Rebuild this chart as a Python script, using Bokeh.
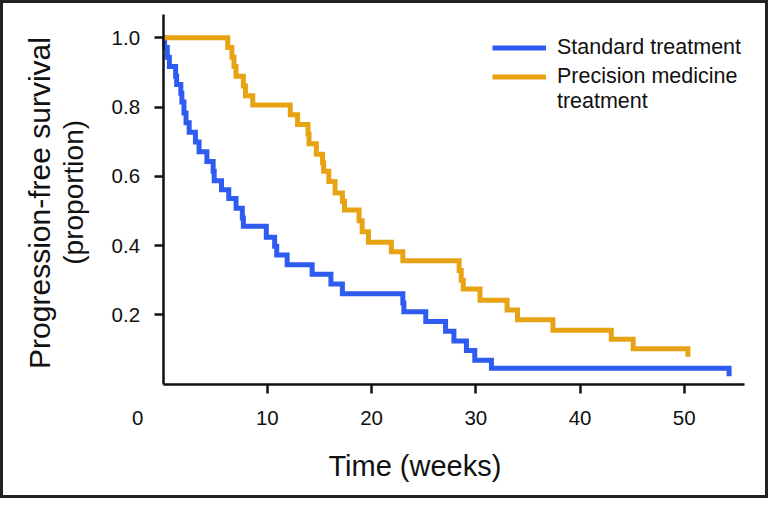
import math
from bokeh.plotting import figure
from bokeh.models import Range1d, FixedTicker, Label, Legend, LegendItem
from bokeh.embed import file_html
from bokeh.resources import INLINE

# ---- data ----
std_weeks = [0, 0.15, 0.4, 0.6, 1.2, 1.3, 1.7, 1.8, 2.0, 2.2, 2.5, 3.1, 3.45, 4.2, 4.8, 4.9,
             5.6, 6.3, 7.0, 7.6, 7.7, 9.9, 10.7, 10.9, 11.9, 14.3, 16.1, 17.2, 23.0, 23.1,
             25.2, 27.1, 27.9, 29.1, 29.9, 31.5, 54.3]
std_surv = [1.0, 0.972, 0.944, 0.917, 0.889, 0.865, 0.840, 0.815, 0.783, 0.755, 0.727, 0.699,
            0.671, 0.643, 0.615, 0.587, 0.561, 0.536, 0.508, 0.480, 0.456, 0.424, 0.398, 0.373,
            0.345, 0.317, 0.289, 0.261, 0.234, 0.209, 0.181, 0.153, 0.125, 0.097, 0.069, 0.046,
            0.023]

prec_weeks = [0, 6.2, 6.6, 6.8, 7.0, 7.7, 7.9, 8.6, 12.2, 12.9, 13.9, 14.0, 14.7, 15.3, 15.4,
              15.9, 16.5, 17.2, 17.4, 18.8, 19.1, 19.7, 21.9, 23.0, 28.4, 28.6, 28.8, 30.4,
              33.0, 34.0, 37.4, 43.0, 45.1, 50.35]
prec_surv = [1.0, 0.972, 0.944, 0.917, 0.889, 0.861, 0.833, 0.806, 0.778, 0.750, 0.722, 0.694,
             0.664, 0.639, 0.615, 0.585, 0.552, 0.528, 0.503, 0.472, 0.440, 0.410, 0.382, 0.356,
             0.328, 0.300, 0.275, 0.242, 0.214, 0.186, 0.156, 0.130, 0.102, 0.079]

series_names = ["Standard treatment", "Precision medicine"]
legend_extra_line = "treatment"

x_ticks = [10, 20, 30, 40, 50]
x_tick_labels = ["10", "20", "30", "40", "50"]
y_ticks = [0.2, 0.4, 0.6, 0.8, 1.0]
y_tick_labels = ["0.2", "0.4", "0.6", "0.8", "1.0"]
origin_label = "0"
x_title = "Time (weeks)"
y_title_lines = ["Progression-free survival", "(proportion)"]

BLUE = "#2F5CF0"
ORANGE = "#E8A315"
INK = "#111111"
FONT = "Liberation Sans"

W, H = 768, 498
# figure pixel = reference pixel * scale
SX, SY = W / 784.0, H / 514.0
# reference-pixel layout: week 0 at x=166, 10.64 px/week; survival 0 at y=396, 357.5 px/unit
X0, XPX, Y0, YPX = 166.0, 10.64, 396.0, 357.5


def wk(ref_x):
    return (ref_x - X0) / XPX


def sv(ref_y):
    return (Y0 - ref_y) / YPX


# the frame spans the whole canvas; the axes sit at fixed locations
p = figure(width=W, height=H, output_backend="svg", toolbar_location=None,
           x_range=Range1d(wk(0), wk(784)), y_range=Range1d(sv(514), sv(0)),
           min_border_left=0, min_border_right=0, min_border_top=0, min_border_bottom=0)
p.grid.visible = False
p.outline_line_color = "#222222"
p.outline_line_width = 5
p.background_fill_color = "white"
p.border_fill_color = "white"

r_std = p.step(std_weeks, std_surv, mode="after", line_color=BLUE, line_width=5,
               line_join="miter")
r_prec = p.step(prec_weeks, prec_surv, mode="after", line_color=ORANGE, line_width=5,
                line_join="miter")

for ax in (p.xaxis[0], p.yaxis[0]):
    ax.fixed_location = 0
    ax.axis_line_width = 2.5
    ax.axis_line_color = INK
    ax.major_tick_line_width = 2.5
    ax.major_tick_line_color = INK
    ax.major_tick_out = 9
    ax.major_tick_in = 0
    ax.minor_tick_line_color = None
    ax.major_label_text_font = FONT
    ax.major_label_text_font_size = "20.5px"
    ax.major_label_text_color = INK

p.xaxis.bounds = (0, wk(759))
p.yaxis.bounds = (0, sv(14))
p.xaxis.ticker = FixedTicker(ticks=x_ticks)
p.xaxis.major_label_overrides = dict(zip(x_ticks, x_tick_labels))
p.xaxis.major_label_standoff = 18
p.yaxis.ticker = FixedTicker(ticks=y_ticks)
p.yaxis.major_label_overrides = dict(zip(y_ticks, y_tick_labels))
p.yaxis.major_label_standoff = 14

item_h = int(round(30 * SY))
box_top = int(round(49 * SY - item_h / 2))
legend = Legend(items=[LegendItem(label=series_names[0], renderers=[r_std]),
                       LegendItem(label=series_names[1], renderers=[r_prec])],
                location=(int(round(502 * SX)), H - (box_top + 2 * item_h)),
                orientation="vertical", padding=0, spacing=0, margin=0,
                glyph_width=int(round(55 * SX)), glyph_height=item_h, label_height=item_h,
                label_standoff=11, label_text_font=FONT, label_text_font_size="21.5px",
                label_text_color=INK, background_fill_alpha=0, border_line_color=None)
p.add_layout(legend)

p.add_layout(Label(x=wk(568), y=sv(104), text=legend_extra_line, text_align="left",
                   text_baseline="middle", text_font=FONT, text_font_size="21.5px",
                   text_color=INK))
p.add_layout(Label(x=wk(140), y=sv(430.5), text=origin_label, text_align="center",
                   text_baseline="middle", text_font=FONT, text_font_size="20.5px",
                   text_color=INK))
p.add_layout(Label(x=wk(423), y=sv(480), text=x_title, text_align="center",
                   text_baseline="alphabetic", text_font=FONT, text_font_size="29px",
                   text_color=INK))
p.add_layout(Label(x=wk(40), y=sv(209), text=y_title_lines[0], angle=math.pi / 2,
                   text_align="center", text_baseline="middle", text_font=FONT,
                   text_font_size="30px", text_color=INK))
p.add_layout(Label(x=wk(75), y=sv(198), text=y_title_lines[1], angle=math.pi / 2,
                   text_align="center", text_baseline="middle", text_font=FONT,
                   text_font_size="28px", text_color=INK))

open("out.html", "w").write(file_html(p, INLINE))
